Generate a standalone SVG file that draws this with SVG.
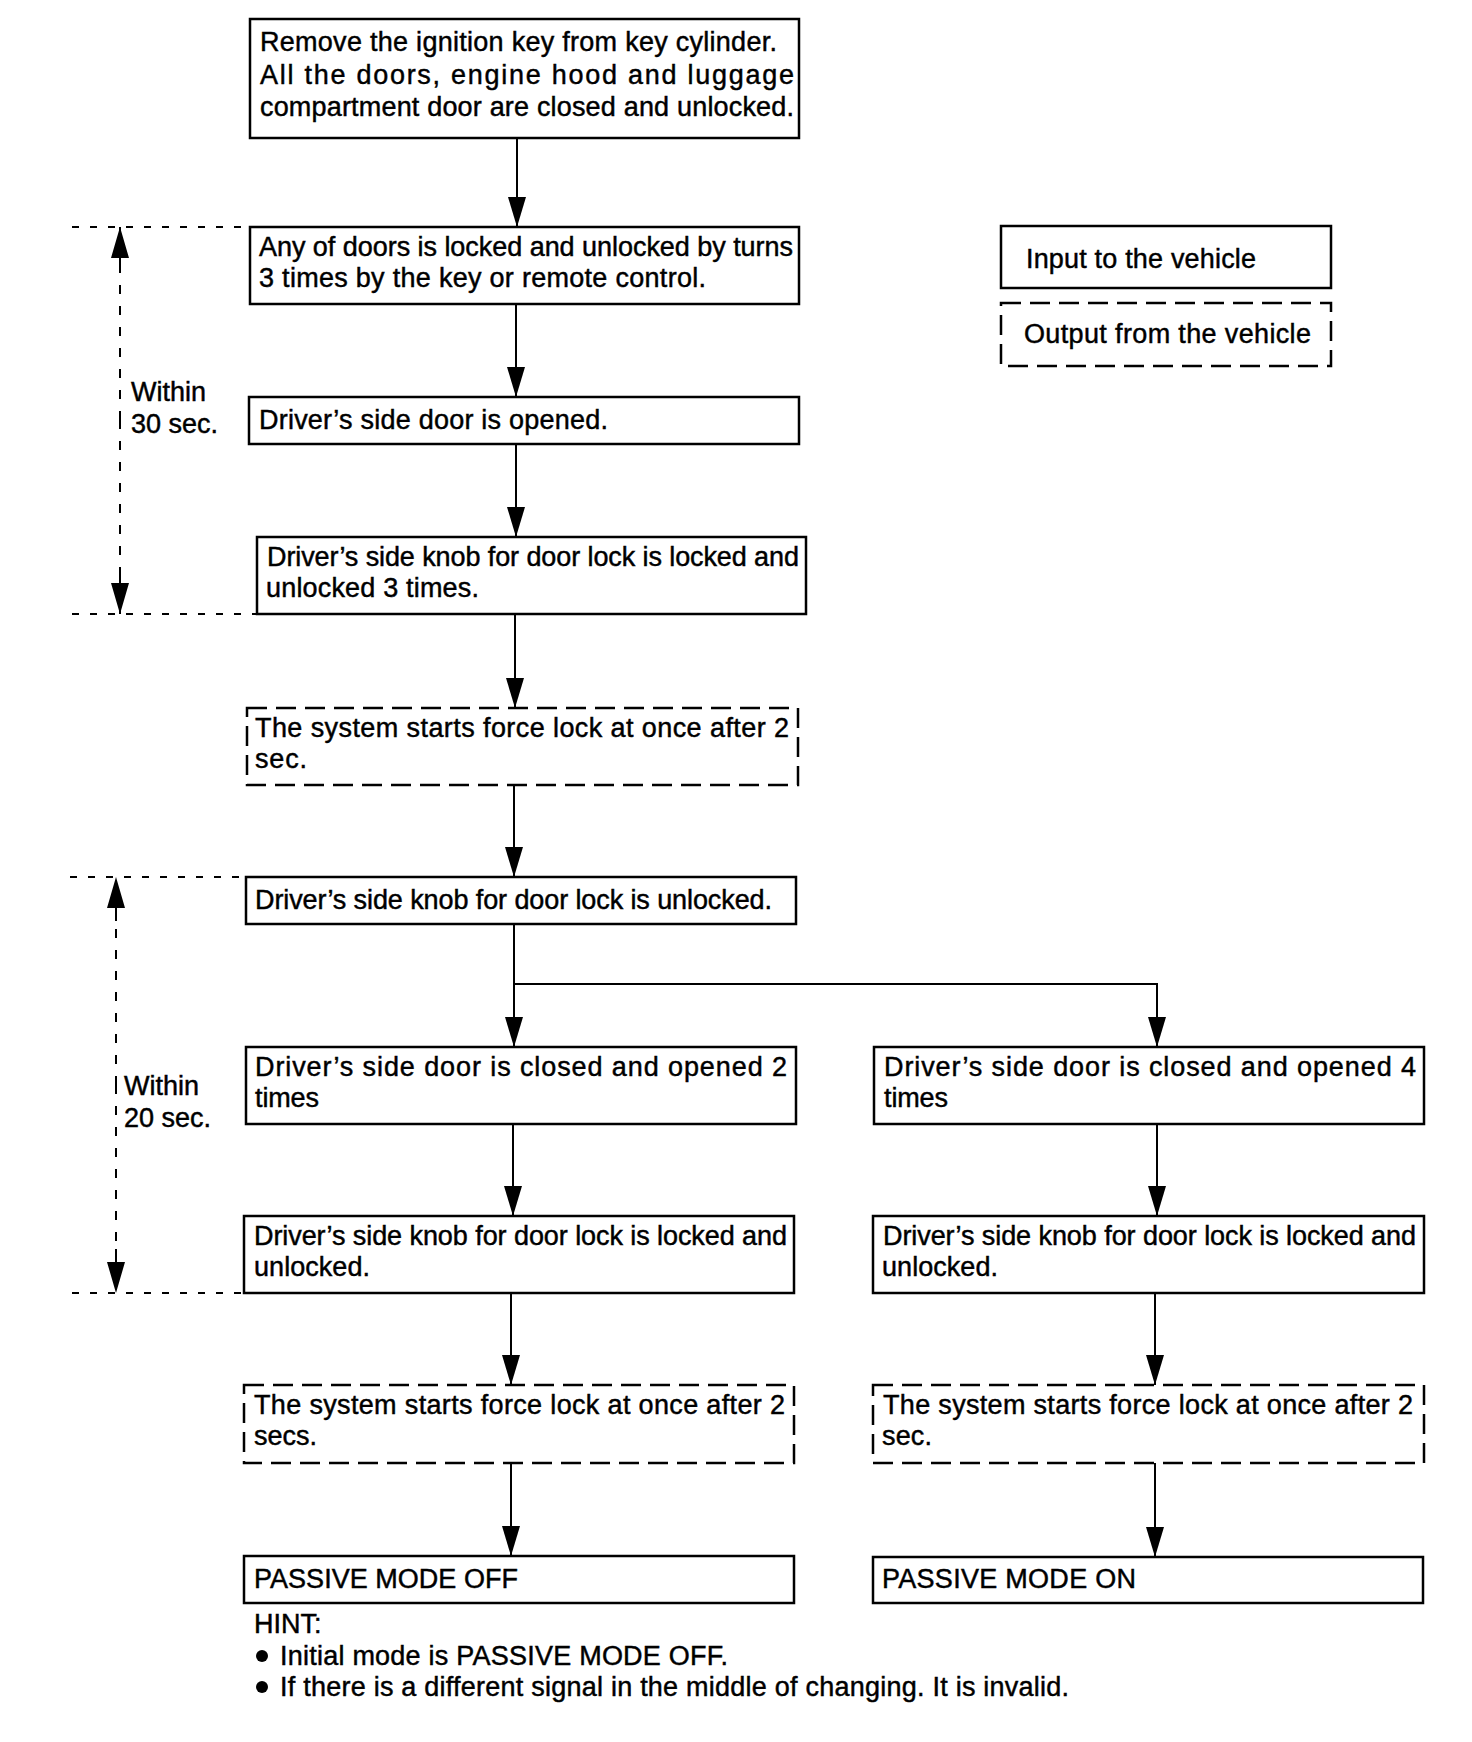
<svg xmlns="http://www.w3.org/2000/svg" width="1472" height="1742" viewBox="0 0 1472 1742">
<style>
text{font-family:"Liberation Sans",Arial,Helvetica,sans-serif;font-size:27px;fill:#000;stroke:#000;stroke-width:0.45}
.box{fill:#fff;stroke:#000;stroke-width:2.5}
.dbox{fill:#fff;stroke:#000;stroke-width:2.5;stroke-dasharray:20 9}
.con{fill:none;stroke:#000;stroke-width:2}
.dim{fill:none;stroke:#000;stroke-width:2;stroke-dasharray:9 12}
.dot{fill:none;stroke:#000;stroke-width:2;stroke-dasharray:7 11}
</style>
<defs>
<marker id="ah" markerUnits="userSpaceOnUse" markerWidth="30" markerHeight="18" refX="30" refY="9" orient="auto">
<path d="M0,0 L30,9 L0,18 z" fill="#000"/>
</marker>
<marker id="dh" markerUnits="userSpaceOnUse" markerWidth="44" markerHeight="18" refX="44" refY="9" orient="auto">
<path d="M0,8 H14 V10 H0 z M13,0 L44,9 L13,18 z" fill="#000"/>
</marker>
</defs>
<rect width="1472" height="1742" fill="#fff"/>

<g id="connectors">
<path class="con" d="M517,138 V227" marker-end="url(#ah)"/>
<path class="con" d="M516,304 V397" marker-end="url(#ah)"/>
<path class="con" d="M516,444 V537" marker-end="url(#ah)"/>
<path class="con" d="M515,614 V708" marker-end="url(#ah)"/>
<path class="con" d="M514,785 V877" marker-end="url(#ah)"/>
<path class="con" d="M514,924 V1047" marker-end="url(#ah)"/>
<path class="con" d="M514,984 H1157 V1047" marker-end="url(#ah)"/>
<path class="con" d="M513,1124 V1216" marker-end="url(#ah)"/>
<path class="con" d="M1157,1124 V1216" marker-end="url(#ah)"/>
<path class="con" d="M511,1293 V1385" marker-end="url(#ah)"/>
<path class="con" d="M1155,1293 V1385" marker-end="url(#ah)"/>
<path class="con" d="M511,1463 V1556" marker-end="url(#ah)"/>
<path class="con" d="M1155,1463 V1557" marker-end="url(#ah)"/>
</g>

<g id="timing30">
<path class="dot" d="M72,227 H250"/>
<path class="dot" d="M72,614 H257"/>
<path class="dim" d="M120,420 V227" marker-end="url(#dh)"/>
<path class="dim" d="M120,420 V614" marker-end="url(#dh)"/>
<text x="131" y="401">Within</text>
<text x="131" y="433">30 sec.</text>
</g>

<g id="timing20">
<path class="dot" d="M70,877 H246"/>
<path class="dot" d="M72,1293 H244"/>
<path class="dim" d="M116,1085 V877" marker-end="url(#dh)"/>
<path class="dim" d="M116,1085 V1293" marker-end="url(#dh)"/>
<text x="124" y="1095">Within</text>
<text x="124" y="1127">20 sec.</text>
</g>

<g id="n1">
<rect class="box" x="250" y="19" width="549" height="119"/>
<text x="260" y="51" textLength="517" lengthAdjust="spacing">Remove the ignition key from key cylinder.</text>
<text x="260" y="84" textLength="534" lengthAdjust="spacing">All the doors, engine hood and luggage</text>
<text x="260" y="116" textLength="534" lengthAdjust="spacing">compartment door are closed and unlocked.</text>
</g>

<g id="n2">
<rect class="box" x="250" y="227" width="549" height="77"/>
<text x="259" y="256" textLength="534" lengthAdjust="spacing">Any of doors is locked and unlocked by turns</text>
<text x="259" y="287" textLength="447" lengthAdjust="spacing">3 times by the key or remote control.</text>
</g>

<g id="n3">
<rect class="box" x="249" y="397" width="550" height="47"/>
<text x="259" y="429" textLength="349" lengthAdjust="spacing">Driver’s side door is opened.</text>
</g>

<g id="n4">
<rect class="box" x="257" y="537" width="549" height="77"/>
<text x="267" y="566" textLength="532" lengthAdjust="spacing">Driver’s side knob for door lock is locked and</text>
<text x="266" y="597" textLength="213" lengthAdjust="spacing">unlocked 3 times.</text>
</g>

<g id="n5">
<rect class="dbox" x="247" y="708" width="551" height="77"/>
<text x="255" y="737" textLength="534" lengthAdjust="spacing">The system starts force lock at once after 2</text>
<text x="255" y="768" textLength="52" lengthAdjust="spacing">sec.</text>
</g>

<g id="n6">
<rect class="box" x="246" y="877" width="550" height="47"/>
<text x="255" y="909" textLength="517" lengthAdjust="spacing">Driver’s side knob for door lock is unlocked.</text>
</g>

<g id="n7a">
<rect class="box" x="246" y="1047" width="550" height="77"/>
<text x="255" y="1076" textLength="532" lengthAdjust="spacing">Driver’s side door is closed and opened 2</text>
<text x="255" y="1107" textLength="64" lengthAdjust="spacing">times</text>
</g>

<g id="n7b">
<rect class="box" x="874" y="1047" width="550" height="77"/>
<text x="884" y="1076" textLength="532" lengthAdjust="spacing">Driver’s side door is closed and opened 4</text>
<text x="884" y="1107" textLength="64" lengthAdjust="spacing">times</text>
</g>

<g id="n8a">
<rect class="box" x="244" y="1216" width="550" height="77"/>
<text x="254" y="1245" textLength="533" lengthAdjust="spacing">Driver’s side knob for door lock is locked and</text>
<text x="254" y="1276" textLength="116" lengthAdjust="spacing">unlocked.</text>
</g>

<g id="n8b">
<rect class="box" x="873" y="1216" width="551" height="77"/>
<text x="883" y="1245" textLength="533" lengthAdjust="spacing">Driver’s side knob for door lock is locked and</text>
<text x="882" y="1276" textLength="116" lengthAdjust="spacing">unlocked.</text>
</g>

<g id="n9a">
<rect class="dbox" x="244" y="1385" width="550" height="78"/>
<text x="254" y="1414" textLength="531" lengthAdjust="spacing">The system starts force lock at once after 2</text>
<text x="254" y="1445" textLength="63" lengthAdjust="spacing">secs.</text>
</g>

<g id="n9b">
<rect class="dbox" x="873" y="1385" width="551" height="78"/>
<text x="883" y="1414" textLength="530" lengthAdjust="spacing">The system starts force lock at once after 2</text>
<text x="882" y="1445" textLength="50" lengthAdjust="spacing">sec.</text>
</g>

<g id="n10a">
<rect class="box" x="244" y="1556" width="550" height="47"/>
<text x="254" y="1588" textLength="264" lengthAdjust="spacing">PASSIVE MODE OFF</text>
</g>

<g id="n10b">
<rect class="box" x="873" y="1557" width="550" height="46"/>
<text x="882" y="1588" textLength="254" lengthAdjust="spacing">PASSIVE MODE ON</text>
</g>

<g id="hint">
<text x="254" y="1633">HINT:</text>
<circle cx="262" cy="1656" r="6" fill="#000"/>
<text x="280" y="1665" textLength="448" lengthAdjust="spacing">Initial mode is PASSIVE MODE OFF.</text>
<circle cx="262" cy="1687" r="6" fill="#000"/>
<text x="280" y="1696" textLength="789" lengthAdjust="spacing">If there is a different signal in the middle of changing. It is invalid.</text>
</g>

<g id="legend-input">
<rect class="box" x="1001" y="226" width="330" height="62"/>
<text x="1026" y="268" textLength="230" lengthAdjust="spacing">Input to the vehicle</text>
</g>
<g id="legend-output">
<rect class="dbox" x="1001" y="303" width="330" height="63"/>
<text x="1024" y="343" textLength="287" lengthAdjust="spacing">Output from the vehicle</text>
</g>
</svg>
